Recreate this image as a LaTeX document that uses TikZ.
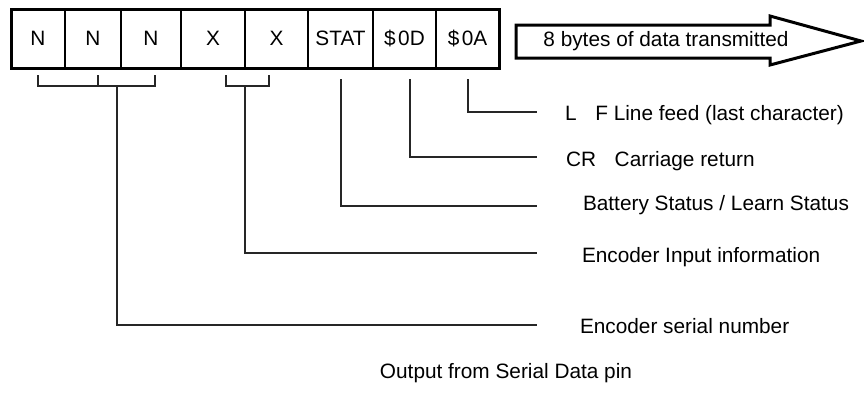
\documentclass[tikz,border=0pt]{standalone}
\usepackage{fontspec}
\setmainfont{Liberation Sans}
\usetikzlibrary{positioning}
\tikzset{
  txt/.style={font=\fontsize{20.8}{24}\selectfont, inner sep=0pt, outer sep=0pt},
  cell/.style={txt, draw, line width=1.2pt, minimum height=59pt},
  lead/.style={line width=1.4pt, draw=black!85}
}
\newcommand{\hexb}[1]{\$\hspace{0.12em}#1}

\begin{document}
\begin{tikzpicture}[x=1pt,y=-1pt]
         \useasboundingbox (0,0) rectangle (864,392);
         % the eight bytes
         \node [cell, minimum width=54pt] (c1) at (38, 38.5)   {N};
         \node [cell, minimum width=56pt] (c2) at (93, 38.5)   {N};
         \node [cell, minimum width=60pt] (c3) at (151, 38.5)  {N};
         \node [cell, minimum width=64pt] (c4) at (213, 38.5)  {X};
         \node [cell, minimum width=63pt] (c5) at (276.5, 38.5) {X};
         \node [cell, minimum width=65pt] (c6) at (340.5, 38.5) {STAT};
         \node [cell, minimum width=63pt] (c7) at (404.5, 38.5) {\hexb{0D}};
         \node [cell, minimum width=63pt] (c8) at (467.5, 38.5) {\hexb{0A}};
         \draw [line width=3pt] (c1.north west) rectangle (c8.south east);
         % big arrow
         \draw [line width=3pt, line join=miter]
               (516,25) -- (770,25) -- (770,16) -- (861,41) -- (770,65) -- (770,58) -- (516,58) -- cycle;
         \node [txt] (data) at (666, 41.5) {8 bytes of data transmitted};
         % labels
         \node [txt, anchor=base west] (lf)  at (565, 120) {L\hspace{0.9em}F Line feed (last character)};
         \node [txt, anchor=base west] (cr)  at (566, 166) {CR\hspace{0.9em}Carriage return};
         \node [txt, anchor=base west] (bat) at (583, 210) {Battery Status / Learn Status};
         \node [txt, anchor=base west] (inp) at (582, 262) {Encoder Input information};
         \node [txt, anchor=base west] (ser) at (580, 333) {Encoder serial number};
         \node [txt] (out) at (506, 373) {Output from Serial Data pin};
         % line ends
         \coordinate (lfE)  at (537, 112);
         \coordinate (crE)  at (537, 157);
         \coordinate (batE) at (537, 206);
         \coordinate (inpE) at (537, 253);
         \coordinate (serE) at (537, 325);
         % bracket points
         \coordinate (lfS)  at (468, 79);
         \coordinate (crS)  at (410, 79);
         \coordinate (batS) at (341, 79);
         \coordinate (xa) at (226, 75);
         \coordinate (xb) at (269, 75);
         \coordinate (xm) at (245, 86);
         \coordinate (na) at (38, 75);
         \coordinate (nb) at (98, 75);
         \coordinate (nc) at (155, 75);
         \coordinate (nm) at (117, 86);
         % leads
         \draw [lead] (lfS) |- (lfE);
         \draw [lead] (crS) |- (crE);
         \draw [lead] (batS) |- (batE);
         \draw [lead] (xa) -- (xa |- xm) -- (xb |- xm) -- (xb);
         \draw [lead] (xm) |- (inpE);
         \draw [lead] (na) -- (na |- nm) -- (nc |- nm) -- (nc);
         \draw [lead] (nb) -- (nb |- nm);
         \draw [lead] (nm) |- (serE);
 \end{tikzpicture}
\end{document}
